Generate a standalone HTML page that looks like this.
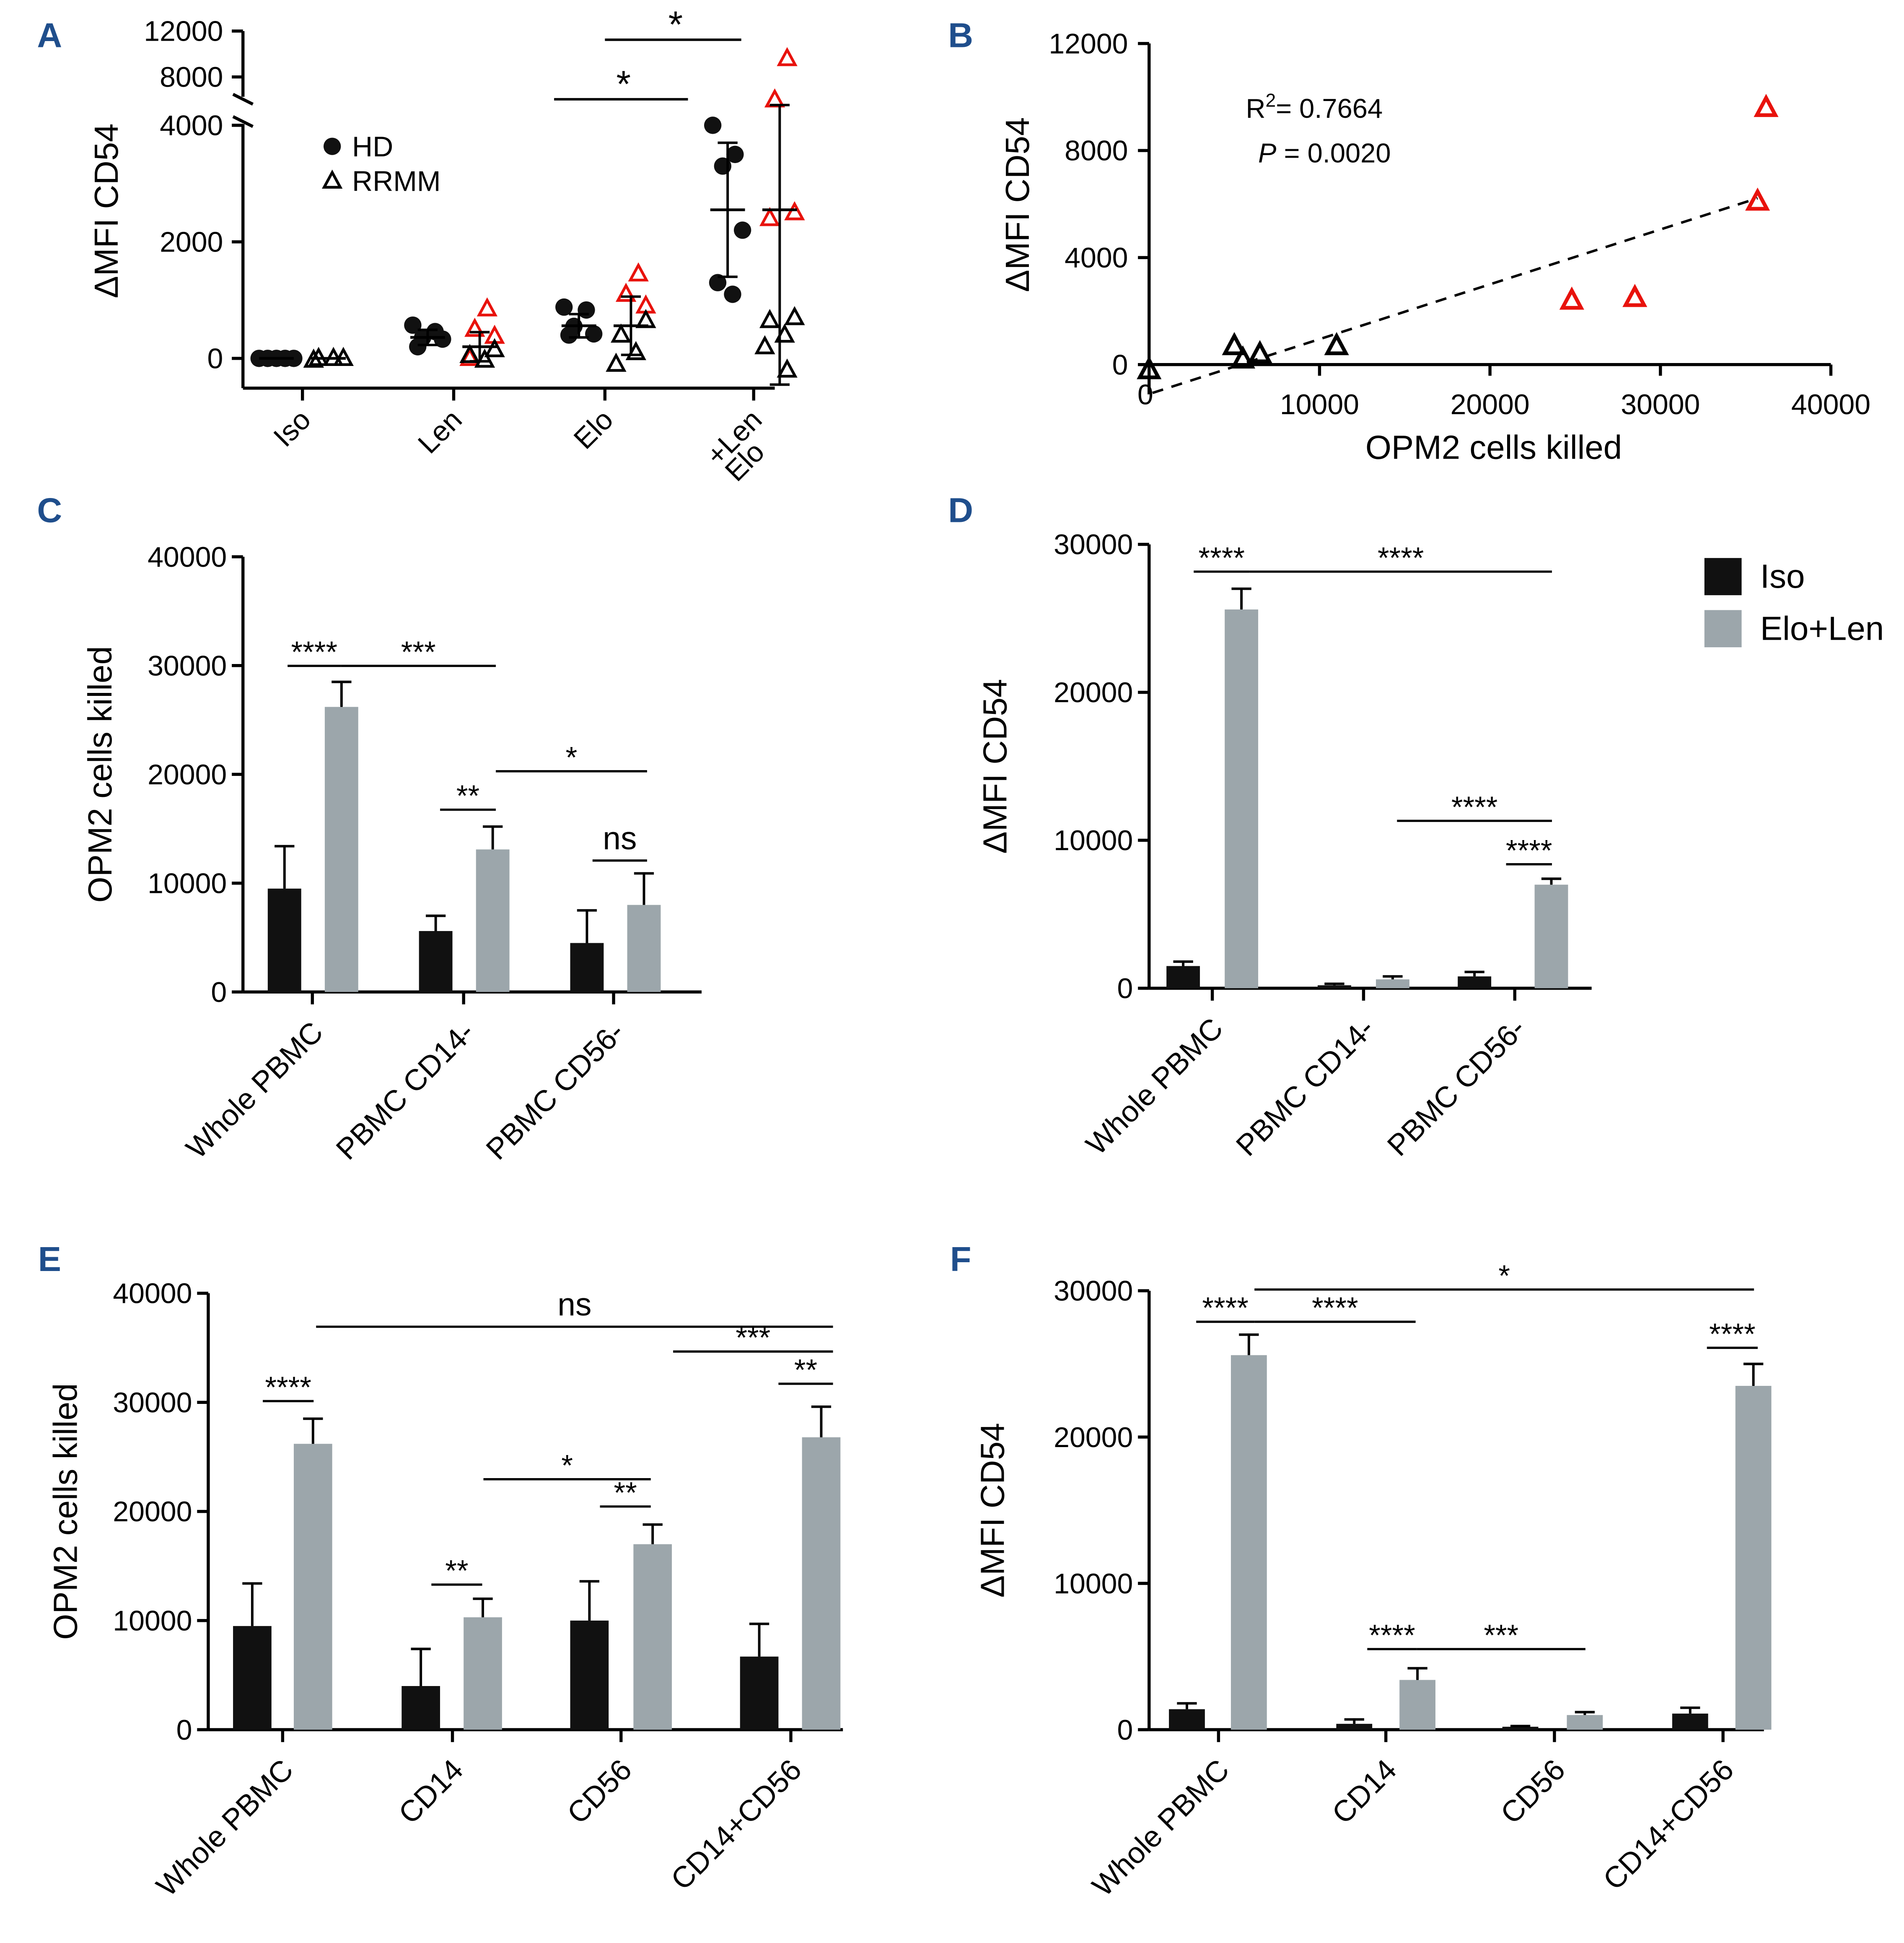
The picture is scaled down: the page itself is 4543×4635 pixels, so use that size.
<!DOCTYPE html>
<html><head><meta charset="utf-8"><style>
html,body{margin:0;padding:0;background:#fff;}
svg{display:block;font-family:"Liberation Sans",Arial,sans-serif;}
</style></head><body>
<svg id="fig" xmlns="http://www.w3.org/2000/svg" width="4543" height="4635" viewBox="0 0 1536 1567">
<rect width="1536" height="1567" fill="#fff"/>
</svg>
<script>
// ---------- DATA ----------
const groupsC = ["Whole PBMC","PBMC CD14-","PBMC CD56-"];
const isoC = [9500,5600,4500], isoErrC=[3900,1400,3000];
const eloC = [26200,13100,8000], eloErrC=[2300,2100,2900];
const groupsD = ["Whole PBMC","PBMC CD14-","PBMC CD56-"];
const isoD = [1500,200,800], isoErrD=[300,100,300];
const eloD = [25600,600,7000], eloErrD=[1400,200,400];
const groupsE = ["Whole PBMC","CD14","CD56","CD14+CD56"];
const isoE = [9500,4000,10000,6700], isoErrE=[3900,3400,3600,3000];
const eloE = [26200,10300,17000,26800], eloErrE=[2300,1700,1800,2800];
const groupsF = ["Whole PBMC","CD14","CD56","CD14+CD56"];
const isoF = [1400,400,200,1100], isoErrF=[400,300,50,400];
const eloF = [25600,3400,1000,23500], eloErrF=[1400,800,200,1500];
const ticks40 = [0,10000,20000,30000,40000];
const ticks30 = [0,10000,20000,30000];
// Panel A
const catsA = ["Iso","Len","Elo","+Len\nElo"];
const hdA = [[0,0,0,0,0],[570,460,360,330,200],[880,830,550,420,400],[4000,3500,3300,2200,1300,1100]];
const rrRedA = [[],[850,500,380,0],[1450,1100,900],[9600,6000,2500,2400]];
const rrBlkA = [[0,0,0,-30],[150,50,-30],[650,400,100,-100],[700,650,400,200,-200]];
const hdMeanA=[0,360,560,2550], hdSdA=[0,130,200,1150];
const rrMeanA=[0,200,560,2550], rrSdA=[0,250,500,3000];
// Panel B
const bxRed=[36200,35700,24800,28500], byRed=[9600,6100,2400,2500];
const bxBlk=[11000,6500,5000,5500,0], byBlk=[700,400,700,200,-200];
const fitSlope=0.205, fitIntercept=-1100;

const NS="http://www.w3.org/2000/svg";
const svg=document.getElementById('fig');
function el(tag,attrs,parent,txt){const e=document.createElementNS(NS,tag);for(const k in attrs)e.setAttribute(k,attrs[k]);if(txt!==undefined)e.textContent=txt;(parent||svg).appendChild(e);return e;}
function line(x1,y1,x2,y2,p,w,dash){const a={x1,y1,x2,y2,stroke:'#000','stroke-width':w||2};if(dash)a['stroke-dasharray']=dash;return el('line',a,p);}
function text(x,y,s,p,size,anchor,extra){const a={x,y,'font-size':size||23,'text-anchor':anchor||'middle',fill:'#000'};Object.assign(a,extra||{});return el('text',a,p,s);}

[["A",40,38],["B",775,38],["C",40,421],["D",775,421],["E",40,1025],["F",775,1025]].forEach(([l,x,y])=>{
 const t=text(x,y,l,svg,28,'middle',{'font-weight':'bold',fill:'#1f4e8c'});
 
 
});

function barChart(cfg){
 const g=el('g',{});
 
 
 const Y=v=>cfg.y0-(v/cfg.ymax)*(cfg.y0-cfg.ytop);
 line(cfg.x0,cfg.ytop,cfg.x0,cfg.y0,g,2.5);
 line(cfg.x0,cfg.y0,cfg.xend,cfg.y0,g,2.5);
 cfg.ticks.forEach(t=>{line(cfg.x0-9,Y(t),cfg.x0,Y(t),g,2.5);const tl=text(cfg.x0-13,Y(t)+8,String(t),g,23,'end');});
 const yt=text(0,0,cfg.ytitle,g,27,'middle',{transform:`translate(${cfg.ytx},${(cfg.ytop+cfg.y0)/2}) rotate(-90)`});
 
 cfg.groups.forEach((gname,i)=>{
  const tx=cfg.tickX[i];
  line(tx,cfg.y0,tx,cfg.y0+10,g,2.5);
  const lab=text(0,0,gname,g,24,'end',{transform:`translate(${tx+10},${cfg.y0+34}) rotate(-45)`});
  
  [[cfg.iso,cfg.isoErr,cfg.isoX,'#111'],[cfg.elo,cfg.eloErr,cfg.eloX,'#9ca6ab']].forEach(([vals,errs,xs,col],k)=>{
   const v=vals[i],e=errs[i],x=xs[i],w=cfg.bw;
   const r=el('rect',{x:x,y:Y(v),width:w,height:cfg.y0-Y(v),fill:col},g);
   
   
   line(x+w/2,Y(v),x+w/2,Y(v+e),g,2);
   line(x+w/2-8,Y(v+e),x+w/2+8,Y(v+e),g,2);
  });
 });
 cfg.sig.forEach(([x1,x2,yy,s])=>{line(x1,yy,x2,yy,g,1.8);const st=text((x1+x2)/2,s==='ns'?yy-9:yy-3,s,g,s==='ns'?26:24);});
 return g;
}

barChart({name:'panel-c-chart',x0:196,xend:566,y0:800,ytop:449,ymax:40000,ticks:ticks40,ytitle:'OPM2 cells killed',ytx:90,
 groups:groupsC,iso:isoC,isoErr:isoErrC,elo:eloC,eloErr:eloErrC,bw:27,isoX:[216,338,460],eloX:[262,384,506],tickX:[252,374,495],
 sig:[[232,275,537,'****'],[275,400,537,'***'],[355,400,653,'**'],[400,522,622,'*'],[478,522,694,'ns']]});
barChart({name:'panel-d-chart',x0:927,xend:1284,y0:797,ytop:439,ymax:30000,ticks:ticks30,ytitle:'ΔMFI CD54',ytx:812,
 groups:groupsD,iso:isoD,isoErr:isoErrD,elo:eloD,eloErr:eloErrD,bw:27,isoX:[941,1063,1176],eloX:[988,1110,1238],tickX:[978,1100,1222],
 sig:[[963,1008,461,'****'],[1008,1252,461,'****'],[1127,1252,662,'****'],[1215,1252,697,'****']]});
barChart({name:'panel-e-chart',x0:168,xend:680,y0:1395,ytop:1043,ymax:40000,ticks:ticks40,ytitle:'OPM2 cells killed',ytx:62,
 groups:groupsE,iso:isoE,isoErr:isoErrE,elo:eloE,eloErr:eloErrE,bw:31,isoX:[188,324,460,597],eloX:[237,374,511,647],tickX:[228,365,501,638],
 sig:[[212,253,1130,'****'],[255,672,1070,'ns'],[543,672,1090,'***'],[628,672,1116,'**'],[390,525,1193,'*'],[484,525,1215,'**'],[348,389,1278,'**']]});
barChart({name:'panel-f-chart',x0:927,xend:1423,y0:1395,ytop:1041,ymax:30000,ticks:ticks30,ytitle:'ΔMFI CD54',ytx:810,
 groups:groupsF,iso:isoF,isoErr:isoErrF,elo:eloF,eloErr:eloErrF,bw:29,isoX:[943,1078,1212,1349],eloX:[993,1129,1264,1400],tickX:[983,1118,1254,1390],
 sig:[[965,1012,1066,'****'],[1012,1142,1066,'****'],[1012,1415,1040,'*'],[1377,1418,1087,'****'],[1103,1143,1330,'****'],[1143,1279,1330,'***']]});

const lg=el('g',{});


el('rect',{x:1375,y:450,width:30,height:30,fill:'#111'},lg);
text(1420,474,'Iso',lg,27,'start');
el('rect',{x:1375,y:492,width:30,height:30,fill:'#9ca6ab'},lg);
text(1420,516,'Elo+Len',lg,27,'start');

// ---------- Panel A ----------
(function(){
 const g=el('g',{});
 
 
 const Y=v=>{ if(v<=4000) return 289-v*0.047; return 62-(v-8000)*(37/4000); };
 line(196,100,196,313,g,2.5); line(196,313,625,313,g,2.5);
 line(196,25,196,78,g,2.5);
 el('path',{d:'M188,76 Q196,80 204,84',fill:'none',stroke:'#000','stroke-width':2.5},g);
 el('path',{d:'M188,94 Q196,98 204,102',fill:'none',stroke:'#000','stroke-width':2.5},g);
 [0,2000,4000,8000,12000].forEach(t=>{line(187,Y(t),196,Y(t),g,2.5);text(180,Y(t)+8,String(t),g,23,'end');});
 const yt=text(0,0,'ΔMFI CD54',g,27,'middle',{transform:'translate(95,170) rotate(-90)'});
 
 const cx=[244,366,488,608];
 const jit=[-12,6,-4,12,-8,4];
 catsA.forEach((c,i)=>{
  line(cx[i],313,cx[i],323,g,2.5);
  const parts=c.split('\n');
  parts.forEach((p,j)=>{const t=text(0,0,p,g,23,'end',{transform:`translate(${cx[i]+8+j*2},${340+j*26}) rotate(-45)`});});
  const hx=cx[i]-21, rx=cx[i]+21;
  hdA[i].forEach((v,k)=>{const x=i===0?hx+(k-2)*7:hx+jit[k];const c2=el('circle',{cx:x,cy:Y(v),r:7,fill:'#111'},g);});
  const tri=(x,v,col)=>{const y=Y(v);const p=el('path',{d:`M${x},${y-7} L${x+6.5},${y+5} L${x-6.5},${y+5} Z`,fill:'none',stroke:col,'stroke-width':2.2},g);};
  rrRedA[i].forEach((v,k)=>tri(rx+jit[(k+1)%6],v,'#e8120c'));
  rrBlkA[i].forEach((v,k)=>tri(rx+jit[(k+3)%6],v,'#000'));
  [[hx,hdMeanA[i],hdSdA[i]],[rx,rrMeanA[i],rrSdA[i]]].forEach(([x,m,s])=>{
   line(x-14,Y(m),x+14,Y(m),g,2.2);
   if(s>0){line(x,Y(m-s),x,Y(m+s),g,2);line(x-8,Y(m+s),x+8,Y(m+s),g,2);line(x-8,Y(m-s),x+8,Y(m-s),g,2);}
  });
 });
 line(447,80,555,80,g,2); text(503,78,'*',g,30);
 line(488,32,598,32,g,2); text(545,30,'*',g,30);
 el('circle',{cx:268,cy:118,r:7,fill:'#111'},g); text(284,126,'HD',g,23,'start');
 el('path',{d:'M268,139 L274.5,151 L261.5,151 Z',fill:'none',stroke:'#000','stroke-width':2.2},g); text(284,154,'RRMM',g,23,'start');
})();

// ---------- Panel B ----------
(function(){
 const g=el('g',{});
 
 
 const X=v=>927+v*0.01375, Y=v=>294-v*0.02158;
 line(927,35,927,318,g,2.5); line(918,294,1477,294,g,2.5);
 [0,4000,8000,12000].forEach(t=>{line(918,Y(t),927,Y(t),g,2.5);text(910,Y(t)+8,String(t),g,23,'end');});
 [10000,20000,30000,40000].forEach(t=>{line(X(t),294,X(t),303,g,2.5);text(X(t),334,String(t),g,23);});
 text(924,326,'0',g,23);
 const yt=text(0,0,'ΔMFI CD54',g,27,'middle',{transform:'translate(830,165) rotate(-90)'});
 
 const xt=text(1205,370,'OPM2 cells killed',g,27);
 
 const fl=line(X(200),Y(fitIntercept+fitSlope*200),X(35700),Y(fitIntercept+fitSlope*35700),g,2,'9,7');
 
 const tri=(x,y,col)=>{const p=el('path',{d:`M${x},${y-8} L${x+7.5},${y+6} L${x-7.5},${y+6} Z`,fill:'none',stroke:col,'stroke-width':3},g);};
 bxRed.forEach((v,i)=>tri(X(v),Y(byRed[i]),'#e8120c'));
 bxBlk.forEach((v,i)=>tri(X(v),Y(byBlk[i]),'#000'));
 const t1=el('text',{x:1005,y:95,'font-size':22},g); t1.innerHTML='R<tspan dy="-9" font-size="15">2</tspan><tspan dy="9">= 0.7664</tspan>';
 const t2=el('text',{x:1015,y:131,'font-size':22},g); t2.innerHTML='<tspan font-style="italic">P</tspan> = 0.0020';
})();
</script>
</body></html>
